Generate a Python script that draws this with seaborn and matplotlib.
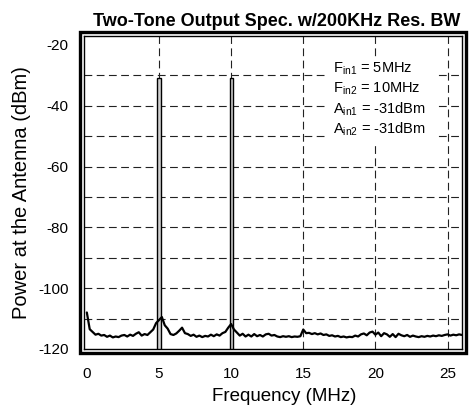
import matplotlib
matplotlib.use("Agg")
import matplotlib.pyplot as plt
from matplotlib.patches import Rectangle
import numpy as np
import pandas as pd
import seaborn as sns

# noise floor, one value every 0.2 MHz from 0 MHz
noise_dbm = [
    -108.0, -113.5, -114.4, -115.3, -115.0, -115.6, -115.4, -116.0, -115.6, -116.2,
    -115.9, -116.1, -115.6, -115.4, -115.9, -115.3, -115.7, -115.0, -114.5, -115.6,
    -115.1, -115.4, -114.5, -113.6, -111.5, -110.5, -109.5, -112.2, -113.3, -115.1,
    -115.4, -114.9, -114.0, -113.0, -114.8, -115.1, -115.7, -115.3, -116.0, -115.6,
    -116.1, -115.7, -115.9, -115.3, -115.8, -115.2, -115.6, -114.8, -114.4, -113.0,
    -111.8, -113.6, -114.6, -115.6, -115.0, -115.9, -115.3, -115.9, -115.1, -115.8,
    -115.4, -115.9, -115.2, -115.0, -115.6, -115.4, -115.9, -116.1, -115.8, -116.0,
    -115.8, -116.1, -115.9, -116.0, -115.8, -113.6, -114.8, -114.7, -115.1, -114.8,
    -115.2, -114.9, -115.4, -115.2, -115.7, -115.5, -115.9, -115.7, -116.1, -115.9,
    -116.2, -116.0, -116.1, -115.6, -115.9, -115.2, -114.9, -115.5, -114.6, -114.3,
    -115.3, -114.6, -115.8, -114.8, -115.2, -116.0, -115.1, -116.1, -115.0, -115.5,
    -115.8, -115.4, -116.0, -115.6, -115.9, -116.1, -115.8, -116.0, -115.7, -115.9,
    -115.6, -115.8, -115.5, -115.7, -115.4, -115.2, -115.6, -115.3, -115.5, -115.2,
    -115.4,
]
step_mhz = 0.2
freq_mhz = np.round(np.arange(len(noise_dbm)) * step_mhz, 1)

tone_freq = [5, 10]
tone_dbm = [-31, -31]

x_ticks = [0, 5, 10, 15, 20, 25]
y_ticks = [-120, -100, -80, -60, -40, -20]
y_grid = [-110, -100, -90, -80, -70, -60, -50, -40, -30]

notes = [r"F$_{\mathrm{in1}}$ = 5MHz", r"F$_{\mathrm{in2}}$ = 10MHz",
         r"A$_{\mathrm{in1}}$ = -31dBm", r"A$_{\mathrm{in2}}$ = -31dBm"]

sns.set_style("white")
plt.rcParams["font.family"] = ["Liberation Sans", "DejaVu Sans"]
plt.rcParams["mathtext.fontset"] = "custom"
plt.rcParams["mathtext.rm"] = "Liberation Sans"
plt.rcParams["axes.unicode_minus"] = False
plt.rcParams["text.color"] = "black"
plt.rcParams["axes.labelcolor"] = "black"
plt.rcParams["xtick.color"] = "black"
plt.rcParams["ytick.color"] = "black"

fig = plt.figure(figsize=(4.69, 4.12), dpi=100)
ax = fig.add_axes([0.179, 0.153, 0.806, 0.76])

df = pd.DataFrame({"freq": freq_mhz, "dbm": noise_dbm})
ax.set_xlim(-0.2, 26)
ax.set_ylim(-120, -17)

dash = (0, (7, 4))
for g in y_grid:
    ax.axhline(g, color="#222222", lw=0.8, ls=dash, zorder=1)
for t in x_ticks[1:]:
    ax.axvline(t, color="#222222", lw=0.8, ls=dash, zorder=1)

floor = -120
ax.bar(tone_freq, [d - floor for d in tone_dbm], bottom=floor, width=0.22,
       color="#d0d0d0", edgecolor="black", linewidth=1.0, zorder=3)
sns.lineplot(data=df, x="freq", y="dbm", ax=ax, color="black", lw=1.6, zorder=4)

ax.set_xticks(x_ticks)
ax.set_yticks(y_ticks)
ax.tick_params(length=0, labelsize=11, pad=13)
ax.tick_params(axis="y", pad=11)
ax.set_xlabel("Frequency (MHz)", fontsize=13.5, labelpad=5, x=0.53)
ax.set_ylabel("Power at the Antenna (dBm)", fontsize=14.5, labelpad=5)
ax.set_title("Two-Tone Output Spec. w/200KHz Res. BW", fontsize=13,
             fontweight="bold", pad=7, x=0.51)

for s in ax.spines.values():
    s.set_linewidth(1.0)
    s.set_color("black")
ax.add_patch(Rectangle((-0.011, -0.013), 1.022, 1.026, transform=ax.transAxes,
                       fill=False, edgecolor="black", lw=2.4, clip_on=False))

# white panel behind the notes
ax.add_patch(Rectangle((0.645, 0.66), 0.29, 0.27, transform=ax.transAxes,
                       facecolor="white", edgecolor="none", zorder=4.5))
for i, txt in enumerate(notes):
    ax.text(0.658, 0.895 - i * 0.064, txt, transform=ax.transAxes, fontsize=10.5,
            va="center", ha="left", zorder=5)

fig.savefig("out.png", dpi=100)
